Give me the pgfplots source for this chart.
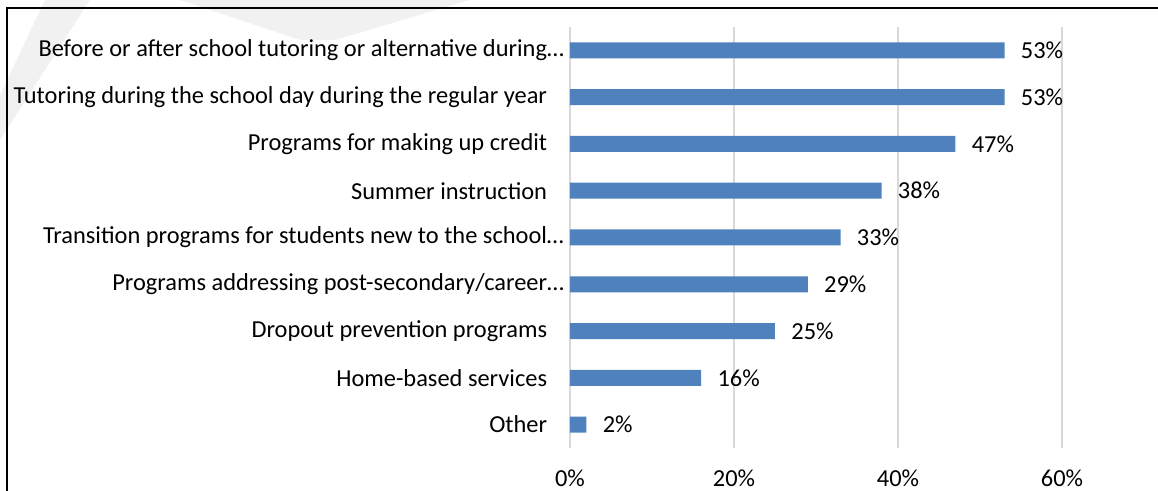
\documentclass[border=0pt]{standalone}
\usepackage{fontspec}
\setmainfont{Carlito}
\usepackage{pgfplots}
\pgfplotsset{compat=1.18}
\definecolor{barblue}{RGB}{79,129,189}
\definecolor{gridgray}{RGB}{217,217,217}
\definecolor{wm}{RGB}{241,241,241}

\begin{document}
\fontsize{12.2pt}{14pt}\selectfont
\begin{tikzpicture}
  \path[use as bounding box] (0pt,0pt) rectangle (579pt,245.5pt);
  % faint watermark shapes behind the chart
  \fill[wm] (0pt,198pt) -- (0pt,175.5pt) -- (45pt,245.5pt) -- (22.5pt,245.5pt) -- cycle;
  \fill[wm] (90pt,245.5pt) -- (150pt,225.5pt) -- (167.5pt,225.5pt) -- (235pt,245.5pt) -- cycle;
  \begin{axis}[
    at={(285pt,21.5pt)}, anchor=south west, scale only axis,
    width=246pt, height=210.5pt,
    xbar, bar width=8pt,
    xmin=0, xmax=60, ymin=-0.5, ymax=8.5, y dir=reverse,
    xtick={0,20,40,60},
    xticklabel={\pgfmathprintnumber{\tick}\%},
    ytick={0,...,8},
    yticklabels={
      Before or after school tutoring or alternative during\rlap{…},
      Tutoring during the school day during the regular year,
      Programs for making up credit,
      Summer instruction,
      Transition programs for students new to the school\rlap{…},
      Programs addressing post-secondary/career\rlap{…},
      Dropout prevention programs,
      Home-based services,
      Other},
    /pgf/number format/assume math mode=true,
    axis line style={draw=none},
    tick style={draw=none},
    xmajorgrids, major grid style={gridgray, line width=1pt},
    xticklabel style={anchor=center, inner sep=0pt, yshift=-15pt},
    yticklabel style={anchor=east, inner sep=0pt, xshift=-7pt},
    nodes near coords={\pgfmathprintnumber{\pgfplotspointmeta}\%},
    nodes near coords style={anchor=west, inner sep=0pt, xshift=8pt, text=black},
  ]
    \addplot[fill=barblue, draw=none] coordinates {
      (53,0) (53,1) (47,2) (38,3) (33,4) (29,5) (25,6) (16,7) (2,8)};
  \end{axis}
  \draw[line width=1pt] (3.5pt,0pt) -- (3.5pt,241.5pt) -- (579pt,241.5pt);
\end{tikzpicture}
\end{document}
